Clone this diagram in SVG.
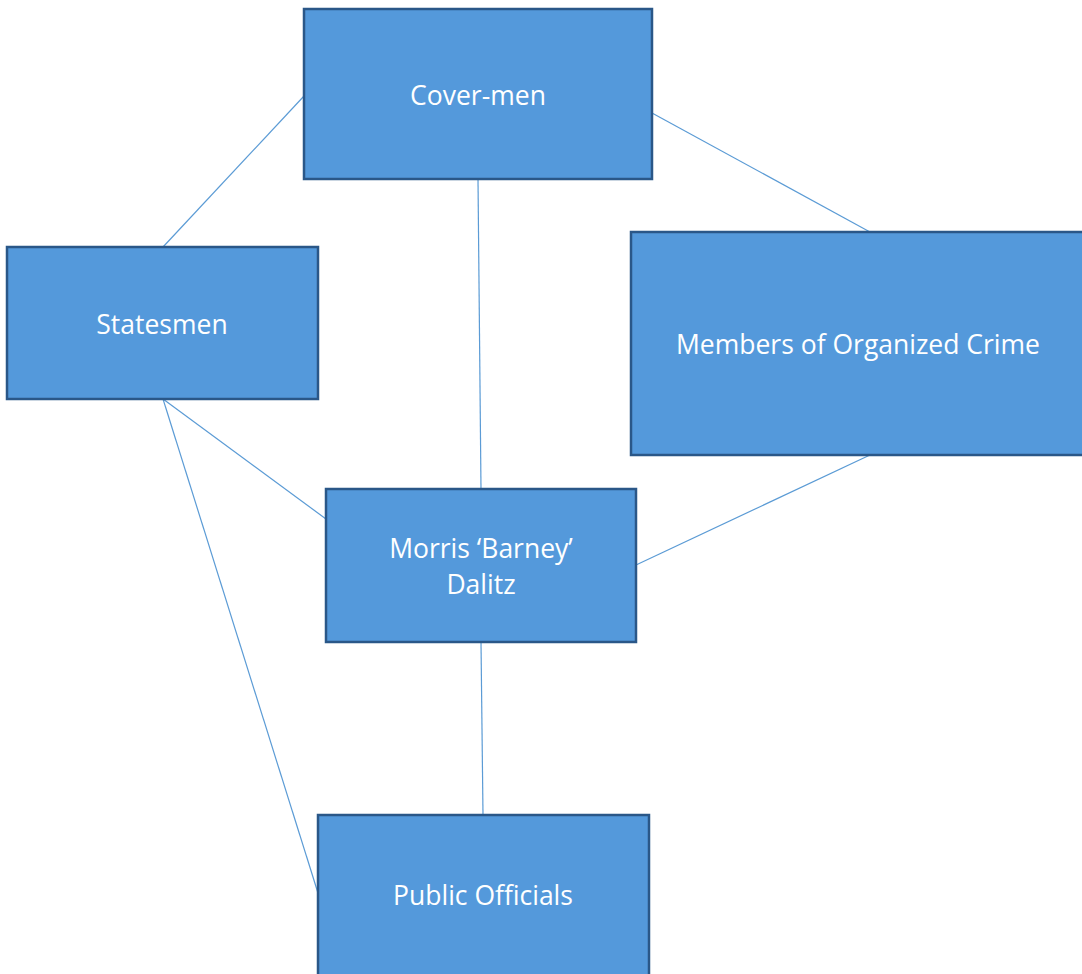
<svg xmlns="http://www.w3.org/2000/svg" width="1082" height="974" viewBox="0 0 1082 974">
<style>
.box{fill:#5499DB;stroke:#2A5788;stroke-width:2.5}
.lbl{font-family:"Open Sans","Noto Sans","Liberation Sans",sans-serif;font-size:26.5px;fill:#ffffff;text-anchor:middle}
.con line{stroke:#5B9BD5;stroke-width:1.2}
</style>
<rect width="1082" height="974" fill="#ffffff"/>
<g id="connectors" class="con">
<line x1="304" y1="96" x2="163" y2="247"/>
<line x1="478" y1="179" x2="481" y2="489"/>
<line x1="652" y1="113" x2="870" y2="232"/>
<line x1="163" y1="399" x2="326" y2="519"/>
<line x1="163" y1="399" x2="318" y2="893"/>
<line x1="870" y1="455" x2="636" y2="565"/>
<line x1="481" y1="642" x2="483" y2="815"/>
</g>
<g id="cover-men">
<rect class="box" x="304" y="9" width="348" height="170"/>
<text class="lbl" x="478" y="105">Cover-men</text>
</g>
<g id="statesmen">
<rect class="box" x="7" y="247" width="311" height="152"/>
<text class="lbl" x="162" y="334">Statesmen</text>
</g>
<g id="organized-crime">
<rect class="box" x="631" y="232" width="460" height="223"/>
<text class="lbl" x="858" y="354">Members of Organized Crime</text>
</g>
<g id="dalitz">
<rect class="box" x="326" y="489" width="310" height="153"/>
<text class="lbl" x="481" y="558">Morris ‘Barney’</text>
<text class="lbl" x="481" y="594">Dalitz</text>
</g>
<g id="public-officials">
<rect class="box" x="318" y="815" width="331" height="170"/>
<text class="lbl" x="483" y="905">Public Officials</text>
</g>
</svg>
